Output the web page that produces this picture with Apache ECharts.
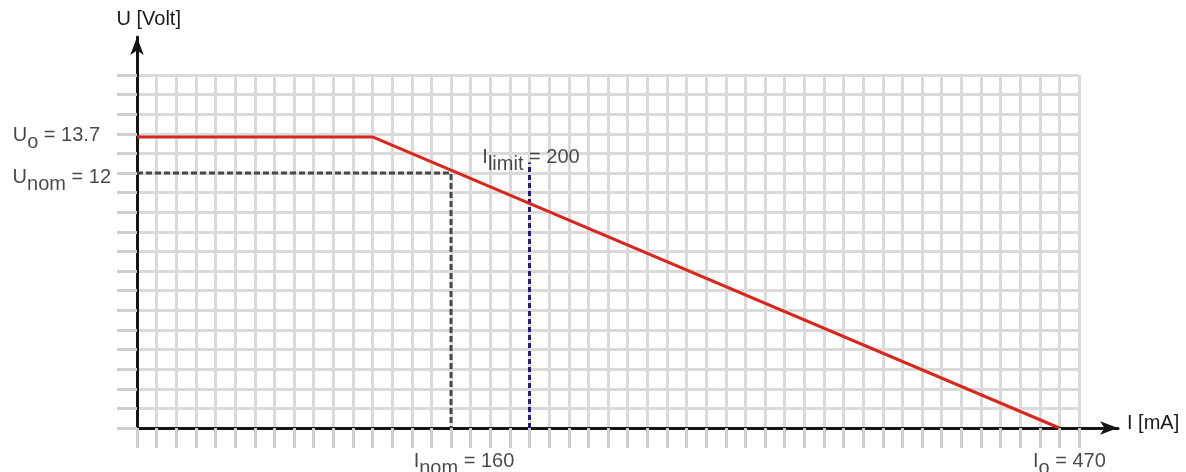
<!DOCTYPE html>
<html>
<head>
<meta charset="utf-8">
<script src="https://cdn.jsdelivr.net/npm/echarts@6/dist/echarts.min.js"></script>
<style>
html,body{margin:0;padding:0;background:#fff;}
#chart{width:1186px;height:472px;}
</style>
</head>
<body>
<div id="chart"></div>
<script>
// ---- data ----
const characteristicCurrent = [0, 120, 470];      // mA
const characteristicVoltage = [13.7, 13.7, 0];     // V
const nominalCurrent = [0, 160, 160];              // mA
const nominalVoltage = [12, 12, 0];                // V
const limitCurrent = [200, 200];                   // mA
const limitVoltage = [0, 12.5];                    // V
const labelSymbol = ['U', 'U', 'I', 'I', 'I'];
const labelSub = ['o', 'nom', 'nom', 'limit', 'o'];
const labelValue = ['13.7', '12', '160', '200', '470'];
const labelCurrent = [0, 0, 160, 200, 470];
const labelVoltage = [13.7, 12, 0, 12.5, 0];
const xTitle = 'I [mA]';
const yTitle = 'U [Volt]';
const xMax = 480, xStep = 10;          // mA per grid cell
const gridRows = 18;                   // grid cells on the U axis
const voltsPerRow = 12 / 13;           // 12 V sits on the 13th grid line

const FONT = '"Liberation Sans", Arial, sans-serif';
const TXT = '#1a1a1a';
const GRID = '#dadada';

function pairs(xs, ys) { return xs.map((x, i) => [x, ys[i]]); }

// label placement per annotation (style only)
const labelPlace = [
  { position: 'left', distance: 37, offset: [0, 2.5] },
  { position: 'left', distance: 26, offset: [0, 8] },
  { position: 'bottom', distance: 23, offset: [13, 0] },
  { position: 'top', distance: 0, offset: [1.5, 12] },
  { position: 'bottom', distance: 23, offset: [10, 0] }
];

const labelData = labelCurrent.map((x, i) => ({
  value: [x, labelVoltage[i]],
  label: Object.assign({
    show: true,
    formatter: '{a|' + labelSymbol[i] + '}{s|' + labelSub[i] + '}{a| = ' + labelValue[i] + '}'
  }, labelPlace[i])
}));

const richText = {
  a: { fontSize: 20, fontFamily: FONT, color: TXT, verticalAlign: 'top' },
  s: { fontSize: 20, fontFamily: FONT, color: TXT, verticalAlign: 'top', padding: [7, 0, 0, 0] }
};

const chart = echarts.init(document.getElementById('chart'), null, { renderer: 'canvas' });
chart.setOption({
  animation: false,
  backgroundColor: '#fff',
  grid: [
    { left: 137, top: 75, width: 942, height: 353 },
    { left: 137, top: 37, width: 981, height: 391 }
  ],
  xAxis: [
    {
      gridIndex: 0, type: 'value', min: 0, max: xMax, interval: xStep, position: 'bottom',
      axisLine: { show: false },
      axisTick: { show: true, length: 20, lineStyle: { color: '#cfcfcf', width: 3 } },
      axisLabel: { show: false },
      splitLine: { show: true, lineStyle: { color: GRID, width: 3 } }
    },
    {
      gridIndex: 1, type: 'value', min: 0, max: 1, position: 'bottom',
      axisLine: { show: true, symbol: ['none', 'arrow'], symbolSize: [10, 18],
        lineStyle: { color: '#151515', width: 3 } },
      axisTick: { show: false }, axisLabel: { show: false }, splitLine: { show: false }
    }
  ],
  yAxis: [
    {
      gridIndex: 0, type: 'value', min: 0, max: gridRows * voltsPerRow, position: 'left',
      show: false
    },
    {
      gridIndex: 0, type: 'value', min: 0, max: gridRows, interval: 1, position: 'left',
      axisLine: { show: false },
      axisTick: { show: true, length: 20, lineStyle: { color: '#cfcfcf', width: 3 } },
      axisLabel: { show: false },
      splitLine: { show: true, lineStyle: { color: GRID, width: 3 } }
    },
    {
      gridIndex: 1, type: 'value', min: 0, max: 1, position: 'left',
      axisLine: { show: true, symbol: ['none', 'arrow'], symbolSize: [10, 18],
        lineStyle: { color: '#151515', width: 3 } },
      axisTick: { show: false }, axisLabel: { show: false }, splitLine: { show: false }
    }
  ],
  series: [
    {
      type: 'line', xAxisIndex: 0, yAxisIndex: 0, symbol: 'none', z: 3,
      data: pairs(nominalCurrent, nominalVoltage),
      lineStyle: { color: '#474747', width: 3, type: [6, 3] }
    },
    {
      type: 'line', xAxisIndex: 0, yAxisIndex: 0, symbol: 'none', z: 3,
      data: pairs(limitCurrent, limitVoltage),
      lineStyle: { color: '#1e1e7a', width: 3, type: [5, 3] }
    },
    {
      type: 'line', xAxisIndex: 0, yAxisIndex: 0, symbol: 'none', z: 4,
      data: pairs(characteristicCurrent, characteristicVoltage),
      lineStyle: { color: '#d8281e', width: 3 }
    },
    {
      type: 'scatter', xAxisIndex: 0, yAxisIndex: 0, symbolSize: 0, z: 6,
      silent: true,
      label: { rich: richText },
      data: labelData
    }
  ],
  graphic: [
    { type: 'text', x: 116.5, y: 19, z: 10,
      style: { text: yTitle, fontSize: 20, fontFamily: FONT, fill: TXT, verticalAlign: 'middle' } },
    { type: 'text', x: 1127, y: 423, z: 10,
      style: { text: xTitle, fontSize: 20, fontFamily: FONT, fill: TXT, verticalAlign: 'middle' } }
  ]
});
</script>
</body>
</html>
